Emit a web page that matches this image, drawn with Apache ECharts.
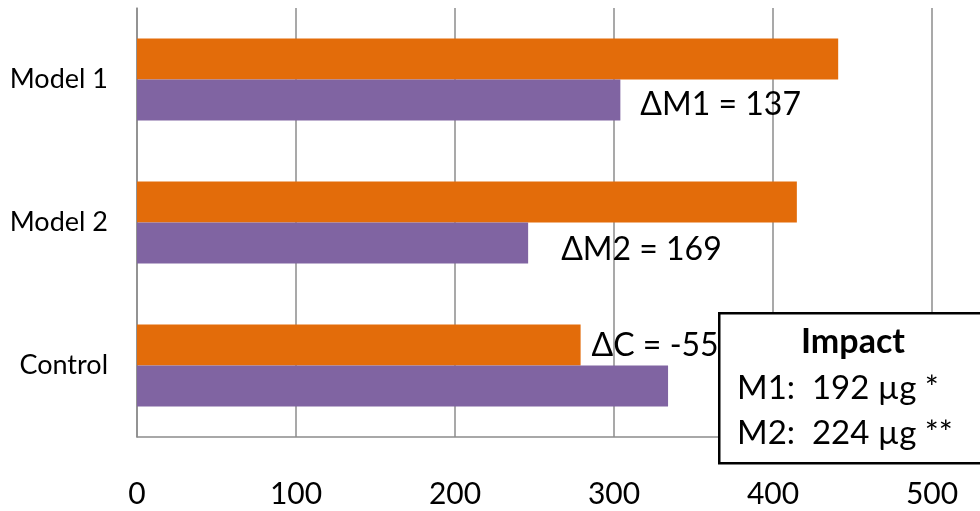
<!DOCTYPE html>
<html>
<head>
<meta charset="utf-8">
<script src="https://cdn.jsdelivr.net/npm/echarts@6/dist/echarts.min.js"></script>
<style>
  html, body { margin: 0; padding: 0; background: #fff; }
  #chart { width: 980px; height: 511px; }
</style>
</head>
<body>
<div id="chart"></div>
<script>
// Categories, top to bottom
var categories = ['Model 1', 'Model 2', 'Control'];
// Values per category (µg)
var orangeValues = [441, 415, 279];
var purpleValues = [304, 246, 334];
// Delta label names
var deltaNames = ['\u0394M1', '\u0394M2', '\u0394C'];
// X axis ticks
var xTicks = [0, 100, 200, 300, 400, 500];

var FONT = 'Lato, "Noto Sans", sans-serif';
var ORANGE = '#E36C0A';
var PURPLE = '#8064A2';
var GRID_GRAY = '#8c8c8c';

// change per category: orange minus purple
var deltas = orangeValues.map(function (v, i) { return v - purpleValues[i]; });
var controlIdx = categories.indexOf('Control');
var impactM1 = deltas[0] - deltas[controlIdx];
var impactM2 = deltas[1] - deltas[controlIdx];

function deltaLabel(i, distance, dy) {
  return {
    show: true,
    position: 'right',
    distance: distance,
    offset: [0, dy],
    color: '#000',
    fontFamily: FONT,
    fontSize: 32,
    formatter: deltaNames[i] + ' = ' + deltas[i]
  };
}

var orangeData = orangeValues.map(function (v, i) {
  var item = { value: v };
  if (i === controlIdx) item.label = deltaLabel(i, 11, 1);
  return item;
});
var purpleData = purpleValues.map(function (v, i) {
  var item = { value: v };
  if (i === 0) item.label = deltaLabel(i, 20, 5);
  if (i === 1) item.label = deltaLabel(i, 33, 7);
  return item;
});

var chart = echarts.init(document.getElementById('chart'), null, { renderer: 'canvas' });
chart.setOption({
  animation: false,
  backgroundColor: '#fff',
  // the value axis runs to 600, past the right edge of the view
  grid: {
    left: 137, top: 8, width: 954, height: 429,
    containLabel: false, outerBoundsMode: 'none'
  },
  xAxis: {
    type: 'value',
    min: 0,
    max: 600,
    interval: 100,
    axisLine: { show: true, lineStyle: { color: GRID_GRAY, width: 1.5 } },
    axisTick: { show: false },
    axisLabel: {
      color: '#000', fontFamily: FONT, fontSize: 30, margin: 42,
      formatter: function (v) { return xTicks.indexOf(v) >= 0 ? String(v) : ''; }
    },
    splitLine: { show: true, lineStyle: { color: GRID_GRAY, width: 1.5 } }
  },
  yAxis: {
    type: 'category',
    inverse: true,
    data: categories,
    axisLine: { show: true, lineStyle: { color: GRID_GRAY, width: 1.5 } },
    axisTick: { show: false },
    axisLabel: { color: '#000', fontFamily: FONT, fontSize: 27, margin: 29 },
    splitLine: { show: false }
  },
  series: [
    {
      type: 'bar', name: 'orange', data: orangeData,
      itemStyle: { color: ORANGE },
      barGap: '0%', barCategoryGap: '42.6%'
    },
    {
      type: 'bar', name: 'purple', data: purpleData,
      itemStyle: { color: PURPLE },
      barGap: '0%', barCategoryGap: '42.6%'
    }
  ],
  graphic: [
    {
      id: 'impactBox', type: 'rect', left: 718, top: 312, z: 100,
      shape: { width: 300, height: 150 },
      style: { fill: '#fff', stroke: '#000', lineWidth: 2.5 }
    },
    {
      id: 'impactTitle', type: 'text', z: 101, x: 853, y: 342,
      style: {
        text: 'Impact', fill: '#000', font: 'bold 34px ' + FONT,
        textAlign: 'center', textVerticalAlign: 'middle'
      }
    },
    {
      id: 'impactM1', type: 'text', z: 101, x: 737, y: 388,
      style: {
        text: 'M1:  ' + impactM1 + ' \u00B5g *', fill: '#000', font: '33px ' + FONT,
        textAlign: 'left', textVerticalAlign: 'middle'
      }
    },
    {
      id: 'impactM2', type: 'text', z: 101, x: 737, y: 433,
      style: {
        text: 'M2:  ' + impactM2 + ' \u00B5g **', fill: '#000', font: '33px ' + FONT,
        textAlign: 'left', textVerticalAlign: 'middle'
      }
    }
  ]
});
</script>
</body>
</html>
